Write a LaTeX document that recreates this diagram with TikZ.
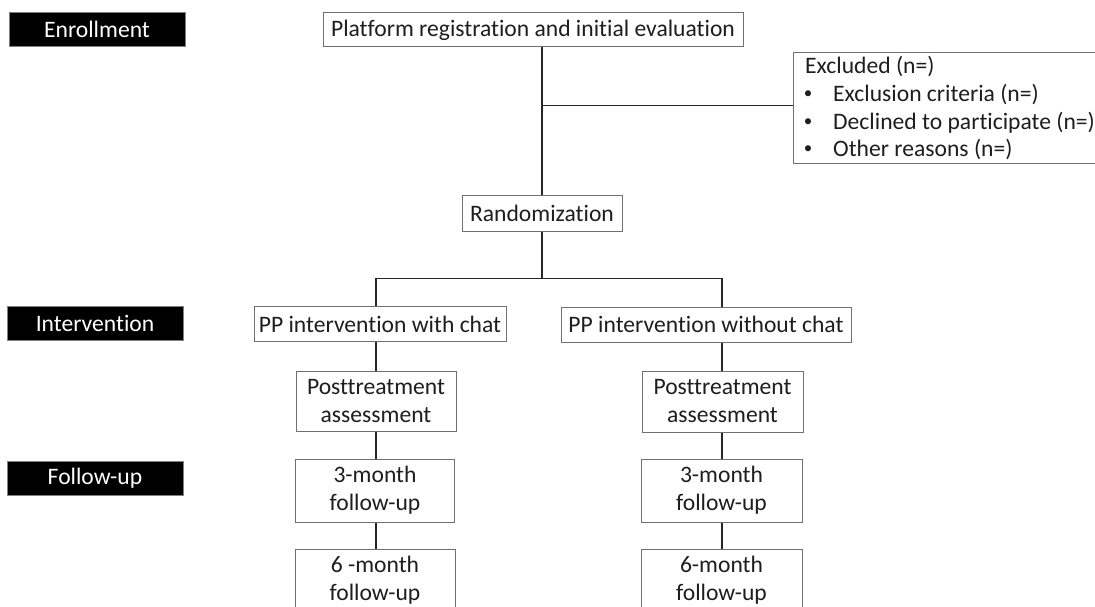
\documentclass[tikz,border=0pt]{standalone}
\usepackage{fontspec}
\setmainfont{Carlito}[Ligatures=NoCommon]
\definecolor{boxgray}{HTML}{707070}
\definecolor{linec}{HTML}{262626}
\definecolor{txt}{HTML}{1E1E1E}
\begin{document}
\begin{tikzpicture}[x=1pt,y=-1pt,
  box/.style={draw=boxgray, line width=1pt, fill=white, text=txt, inner sep=0pt, align=center, font=\fontsize{23.6}{28}\selectfont},
  stage/.style={draw=gray, line width=1pt, fill=black, text=white, minimum width=176pt, minimum height=34pt, inner sep=0pt, font=\fontsize{23.6}{28}\selectfont},
  exc/.style={inner sep=0pt, text=txt, font=\fontsize{23.6}{28}\selectfont},
  conn/.style={draw=linec, line width=1.7pt},
]
\useasboundingbox (0,0) rectangle (1095,607);
\clip (0,0) rectangle (1095,607);

% stage labels
\node[stage] (enr) at (97,29.5) {Enrollment};
\node[stage] (intv) at (95,323) {Intervention};
\node[stage] (fup) at (95,478) {Follow-up};

% flow boxes
\node[box, minimum width=420pt, minimum height=34pt] (plat) at (533,30) {Platform registration and initial evaluation};
\node[box, minimum width=304pt, minimum height=111pt] (excl) at (945,108.5) {};
\node[exc, anchor=west] (ex0) at (805,67) {Excluded (n=)};
\node[exc, font=\fontsize{17}{20}\selectfont] (bu1) at (808,95) {\textbullet};
\node[exc, font=\fontsize{17}{20}\selectfont] (bu2) at (808,123) {\textbullet};
\node[exc, font=\fontsize{17}{20}\selectfont] (bu3) at (808,150) {\textbullet};
\node[exc, anchor=west] (ex1) at (833,95) {Exclusion criteria (n=)};
\node[exc, anchor=west] (ex2) at (833,123) {Declined to participate (n=)};
\node[exc, anchor=west] (ex3) at (833,150) {Other reasons (n=)};

\node[box, minimum width=160pt, minimum height=36pt] (rand) at (542,213) {Randomization};
\node[box, minimum width=252pt, minimum height=35pt] (ppw) at (380,324) {PP intervention with chat};
\node[box, minimum width=290pt, minimum height=35pt] (ppwo) at (706,324.5) {PP intervention without chat};

\node[box, minimum width=160pt, minimum height=60pt] (postL) at (376,401) {Posttreatment\\assessment};
\node[box, minimum width=161pt, minimum height=61pt] (postR) at (722.5,401.5) {Posttreatment\\assessment};
\node[box, minimum width=159pt, minimum height=63pt] (m3L) at (375,490.5) {3-month\\follow-up};
\node[box, minimum width=161pt, minimum height=63pt] (m3R) at (721.5,490.5) {3-month\\follow-up};
\node[box, minimum width=160pt, minimum height=63pt] (m6L) at (375,580.5) {6 -month\\follow-up};
\node[box, minimum width=161pt, minimum height=63pt] (m6R) at (721.5,580.5) {6-month\\follow-up};

% connectors
\coordinate (j1) at (542,105.5);
\coordinate (cl) at (376,278.5);
\coordinate (cr) at (722,278.5);
\draw[conn] (plat.south -| rand.north) -- (rand.north);
\draw[conn] (j1) -- (j1 -| excl.west);
\draw[conn] (rand.south) -- (rand.south |- cl);
\draw[conn] (cl |- ppw.north) -- (cl) -- (cr) -- (cr |- ppwo.north);
\draw[conn] (cl |- ppw.south) -- (cl |- postL.north);
\draw[conn] (cl |- postL.south) -- (cl |- m3L.north);
\draw[conn] (cl |- m3L.south) -- (cl |- m6L.north);
\draw[conn] (cr |- ppwo.south) -- (cr |- postR.north);
\draw[conn] (cr |- postR.south) -- (cr |- m3R.north);
\draw[conn] (cr |- m3R.south) -- (cr |- m6R.north);
\end{tikzpicture}
\end{document}
